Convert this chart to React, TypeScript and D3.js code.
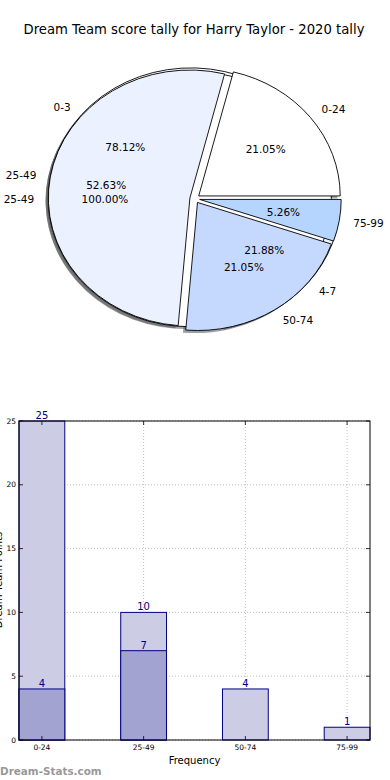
import React from 'react';
import * as d3 from 'd3';

const W = 390;
const H = 780;

const title = 'Dream Team score tally for Harry Taylor - 2020 tally';

// pie layers (drawn bottom to top: pieB, pieC, pieA)
const pieALabels = ['0-24', '25-49', '50-74', '75-99'];
const pieAValues = [4, 10, 4, 1];
const pieBLabels = ['0-3', '4-7'];
const pieBValues = [25, 7];
const pieCLabels = ['25-49'];
const pieCValues = [10];
const pieColors = ['#ffffff', '#ebf1ff', '#c5d9ff', '#b5d5ff'];

// bar chart
const barCategories = ['0-24', '25-49', '50-74', '75-99'];
const barOuter = [25, 10, 4, 1];
const barInner = [4, 7, 0, 0];
const yTicks = [0, 5, 10, 15, 20, 25];

const font = 'DejaVu Sans, sans-serif';

const cx = 194.8;
const cy = 198.7;
const rx = 141.5;
const ry = 128;
const explode = 0.035;

type Wedge = { t1: number; t2: number; label: string; pct: string; color: string; dx: number; dy: number };

// python-style %.2f (half to even on exact ties)
function fmtPct(p: number) {
  const scaled = p * 100;
  const fl = Math.floor(scaled);
  let r = Math.round(scaled);
  if (Math.abs(scaled - fl - 0.5) < 1e-9) r = fl % 2 === 0 ? fl : fl + 1;
  return (r / 100).toFixed(2) + '%';
}

function wedges(values: number[], labels: string[]): Wedge[] {
  const total = d3.sum(values);
  let acc = 0;
  return values.map((v, i) => {
    const t1 = (acc / total) * 2 * Math.PI;
    acc += v;
    const t2 = (acc / total) * 2 * Math.PI;
    const mid = (t1 + t2) / 2;
    return {
      t1, t2,
      label: labels[i],
      pct: fmtPct((v / total) * 100),
      color: pieColors[i % pieColors.length],
      dx: explode * rx * Math.cos(mid),
      dy: -explode * ry * Math.sin(mid),
    };
  });
}

const arc = d3.arc<any>().innerRadius(0).outerRadius(1);

function wedgePath(w: Wedge) {
  // matplotlib angles (ccw from east) -> d3 angles (cw from north)
  return arc({ startAngle: Math.PI / 2 - w.t2, endAngle: Math.PI / 2 - w.t1 }) as string;
}

function shade(c: string) {
  const r = d3.rgb(c);
  return d3.rgb(r.r * 0.3, r.g * 0.3, r.b * 0.3).toString();
}

const layers = [wedges(pieBValues, pieBLabels), wedges(pieCValues, pieCLabels), wedges(pieAValues, pieALabels)];

const Pie = () => {
  const all = layers.flat();
  return (
    <g>
      {all.map((w, i) => (
        <path key={'s' + i} d={wedgePath(w)} fill={shade(w.color)} fillOpacity={0.5}
          transform={`translate(${cx + w.dx - 0.02 * rx},${cy + w.dy + 0.02 * ry}) scale(${rx},${ry})`} />
      ))}
      {all.map((w, i) => (
        <path key={'w' + i} d={wedgePath(w)} fill={w.color} stroke="#000" strokeWidth={0.9}
          vectorEffect="non-scaling-stroke" strokeLinejoin="round"
          transform={`translate(${cx + w.dx},${cy + w.dy}) scale(${rx},${ry})`} />
      ))}
      {all.map((w, i) => {
        const mid = (w.t1 + w.t2) / 2;
        const c = Math.cos(mid), s = Math.sin(mid);
        const lx = cx + w.dx + 1.1 * rx * c;
        const ly = cy + w.dy - 1.1 * ry * s;
        const px = cx + w.dx + 0.6 * rx * c;
        const py = cy + w.dy - 0.6 * ry * s;
        return (
          <g key={'t' + i} fontFamily={font} fontSize={10.5} fill="#000">
            <text x={lx} y={ly} textAnchor={c > 0 ? 'start' : 'end'} dominantBaseline="central">{w.label}</text>
            <text x={px} y={py} textAnchor="middle" dominantBaseline="central">{w.pct}</text>
          </g>
        );
      })}
    </g>
  );
};

const BarChart = () => {
  const left = 19, right = 370, top = 421, bottom = 740;
  const bw = 0.45;
  const x = d3.scaleLinear().domain([-bw / 2, barCategories.length - 1 + bw / 2]).range([left, right]);
  const y = d3.scaleLinear().domain([0, 25]).range([bottom, top]);
  const navy = '#000080';
  const series = [
    { values: barOuter, fill: '#ccccE5' },
    { values: barInner, fill: '#a3a3d1' },
  ];
  return (
    <g fontFamily={font}>
      {yTicks.map(t => (
        <line key={'gy' + t} x1={left} x2={right} y1={y(t)} y2={y(t)} stroke="#b0b0b0" strokeWidth={0.8} strokeDasharray="1,2" />
      ))}
      {barCategories.map((c, i) => (
        <line key={'gx' + i} x1={x(i)} x2={x(i)} y1={top} y2={bottom} stroke="#b0b0b0" strokeWidth={0.8} strokeDasharray="1,2" />
      ))}
      {series.map((s, si) => s.values.map((v, i) => v > 0 ? (
        <rect key={si + '-' + i} x={x(i - bw / 2)} y={y(v)} width={x(i + bw / 2) - x(i - bw / 2)} height={y(0) - y(v)}
          fill={s.fill} stroke={navy} strokeWidth={1} />
      ) : null))}
      {series.map((s, si) => s.values.map((v, i) => v > 0 ? (
        <text key={'l' + si + '-' + i} x={x(i)} y={y(v) - 2} textAnchor="middle" fontSize={10} fill={navy}>{v}</text>
      ) : null))}
      <rect x={left} y={top} width={right - left} height={bottom - top} fill="none" stroke="#000" strokeWidth={1} />
      {yTicks.map(t => (
        <g key={'ty' + t}>
          <line x1={left} x2={left + 4} y1={y(t)} y2={y(t)} stroke="#000" strokeWidth={0.8} />
          <line x1={right - 4} x2={right} y1={y(t)} y2={y(t)} stroke="#000" strokeWidth={0.8} />
          <text x={left - 3} y={y(t)} textAnchor="end" dominantBaseline="central" fontSize={7.5}>{t}</text>
        </g>
      ))}
      {barCategories.map((c, i) => (
        <g key={'tx' + i}>
          <line x1={x(i)} x2={x(i)} y1={bottom} y2={bottom - 4} stroke="#000" strokeWidth={0.8} />
          <line x1={x(i)} x2={x(i)} y1={top} y2={top + 4} stroke="#000" strokeWidth={0.8} />
          <text x={x(i)} y={bottom + 10} textAnchor="middle" fontSize={7.5}>{c}</text>
        </g>
      ))}
      <text x={(left + right) / 2} y={bottom + 24} textAnchor="middle" fontSize={10}>Frequency</text>
      <text transform={`translate(2,580) rotate(-90)`} textAnchor="middle" fontSize={10}>Dream Team Points</text>
    </g>
  );
};

export default function App() {
  return (
    <svg width={W} height={H} style={{ position: 'absolute', left: 0, top: 0, background: '#fff' }}>
      <text x={W / 2 - 1} y={34} textAnchor="middle" fontFamily={font} fontSize={13.2}>{title}</text>
      <Pie />
      <BarChart />
      <text x={0} y={775} fontFamily={font} fontSize={10.4} fontWeight="bold" fill="#999">Dream-Stats.com</text>
    </svg>
  );
}
